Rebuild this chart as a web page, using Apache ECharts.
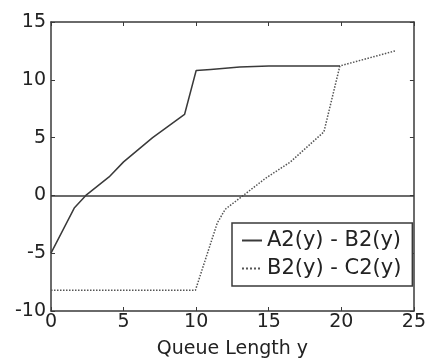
<!DOCTYPE html>
<html>
<head>
<meta charset="utf-8">
<script src="https://cdn.jsdelivr.net/npm/echarts@6/dist/echarts.min.js"></script>
<style>
  html, body { margin: 0; padding: 0; background: #fff; }
  #chart { width: 429px; height: 364px; }
</style>
</head>
<body>
<div id="chart"></div>
<script>
// values, [queue length, difference]
const seriesNames = ['A2(y) - B2(y)', 'B2(y) - C2(y)'];
const diffAB = [
  [0, -5], [1.6, -1.1], [2.4, 0], [4, 1.6], [5, 2.9], [7, 5], [9.2, 7],
  [10, 10.8], [11, 10.9], [13, 11.1], [15, 11.2], [19.9, 11.2]
];
const diffBC = [
  [0, -8.2], [9.95, -8.2], [11.45, -2.4], [12, -1.2], [13.25, 0],
  [14.8, 1.5], [16.5, 2.9], [18.8, 5.5], [19.9, 11.2], [23.7, 12.5]
];
const xTicks = [0, 5, 10, 15, 20, 25];
const yTicks = [-10, -5, 0, 5, 10, 15];

const ink = '#3a3a3a';
const font = 'DejaVu Sans, sans-serif';

const chart = echarts.init(document.getElementById('chart'));

const frameAxis = {
  axisLine: { show: true, onZero: false, lineStyle: { color: ink, width: 1.5 } },
  axisTick: { show: true, inside: true, length: 4, lineStyle: { color: ink } },
  splitLine: { show: false }
};

chart.setOption({
  animation: false,
  backgroundColor: '#fff',
  grid: { left: 51, right: 6, top: 22, bottom: 50 },
  xAxis: [
    Object.assign({
      type: 'value', min: xTicks[0], max: xTicks[xTicks.length - 1], interval: 5,
      name: 'Queue Length y', nameLocation: 'middle', nameGap: 29,
      nameTextStyle: { color: '#222', fontSize: 19, fontFamily: font },
      axisLabel: { color: '#222', fontSize: 19, fontFamily: font, margin: 2 }
    }, frameAxis),
    Object.assign({
      type: 'value', position: 'top', min: 0, max: 25, interval: 5,
      axisLabel: { show: false }
    }, frameAxis)
  ],
  yAxis: [
    Object.assign({
      type: 'value', min: yTicks[0], max: yTicks[yTicks.length - 1], interval: 5,
      axisLabel: { color: '#222', fontSize: 19, fontFamily: font, margin: 5 }
    }, frameAxis),
    Object.assign({
      type: 'value', position: 'right', min: -10, max: 15, interval: 5,
      axisLabel: { show: false }
    }, frameAxis)
  ],
  legend: {
    orient: 'vertical',
    left: 232, top: 223,
    padding: [7, 11, 7, 9],
    itemGap: 7,
    itemWidth: 20, itemHeight: 19,
    itemStyle: { opacity: 0 },
    backgroundColor: '#fff',
    borderColor: ink, borderWidth: 1.5,
    textStyle: { color: '#222', fontSize: 21, fontFamily: font },
    data: seriesNames
  },
  series: [
    {
      name: seriesNames[0], type: 'line', data: diffAB,
      symbol: 'none', lineStyle: { color: ink, width: 1.5 }, itemStyle: { color: ink },
      markLine: {
        silent: true, symbol: 'none', label: { show: false },
        lineStyle: { color: ink, width: 1.5, type: 'solid' },
        data: [{ yAxis: 0 }]
      },
      z: 3
    },
    {
      name: seriesNames[1], type: 'line', data: diffBC,
      symbol: 'none', lineStyle: { color: '#555', width: 1.5, type: 'dotted' }, itemStyle: { color: '#555' },
      z: 2
    }
  ]
});
</script>
</body>
</html>
